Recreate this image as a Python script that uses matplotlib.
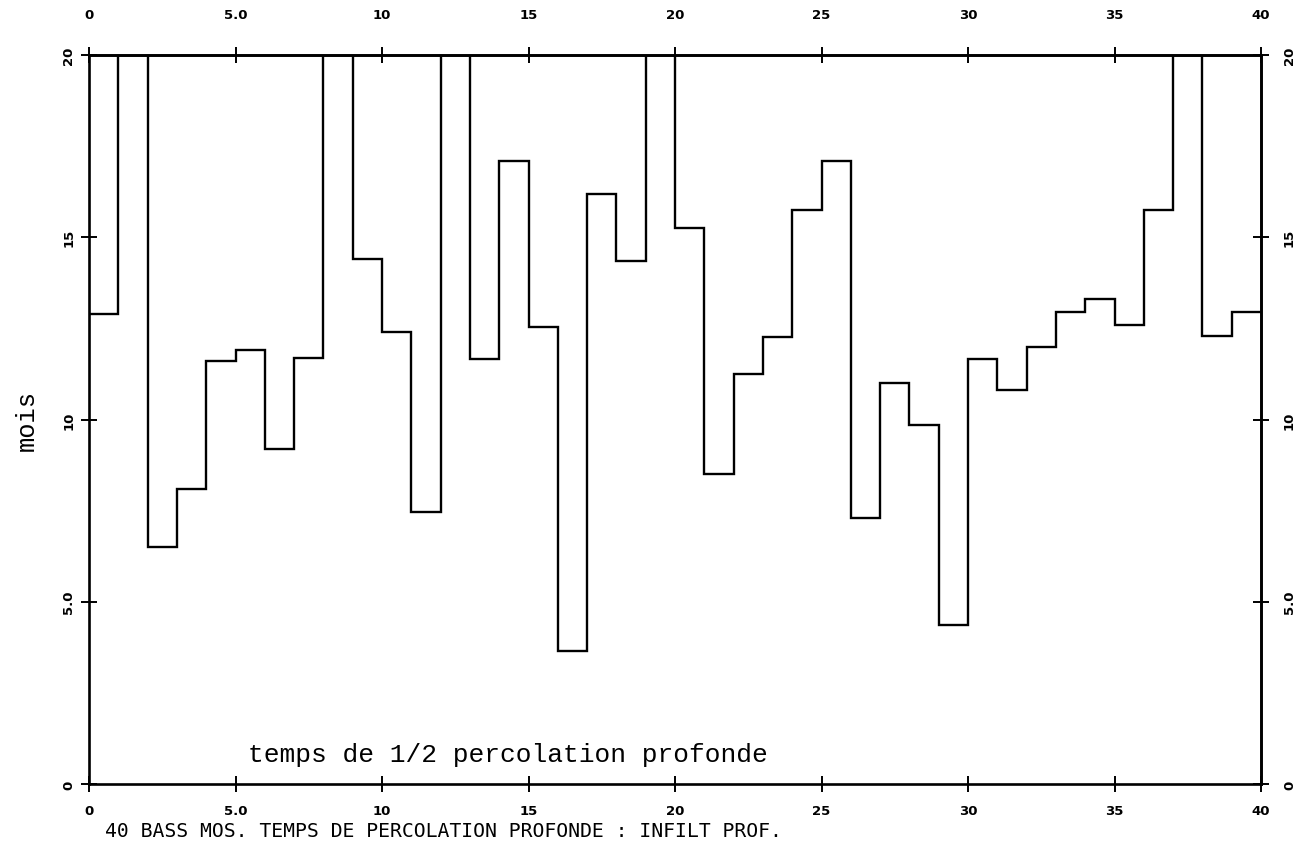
import matplotlib
matplotlib.use("Agg")
import matplotlib.pyplot as plt
import numpy as np

# ---- data ----
edges = list(range(0, 41))
values = [12.9, 20.0, 6.5, 8.1, 11.6, 11.9, 9.2, 11.7, 20.0, 14.4,
          12.4, 7.45, 20.0, 11.65, 17.1, 12.55, 3.65, 16.2, 14.35, 20.0,
          15.25, 8.5, 11.25, 12.25, 15.75, 17.1, 7.3, 11.0, 9.85, 4.35,
          11.65, 10.8, 12.0, 12.95, 13.3, 12.6, 15.75, 20.0, 12.3, 12.95]
xticks = [0, 5, 10, 15, 20, 25, 30, 35, 40]
xticklabels = ["0", "5.0", "10", "15", "20", "25", "30", "35", "40"]
yticks = [0, 5, 10, 15, 20]
yticklabels = ["0", "5.0", "10", "15", "20"]
inner_label = "temps de 1/2 percolation profonde"
ylabel = "mois"
caption = "40 BASS MOS. TEMPS DE PERCOLATION PROFONDE : INFILT PROF."

W, H = 1307, 854
fig = plt.figure(figsize=(W / 100, H / 100), dpi=100)
left, right, top, bottom = 89, 1261, 56, 785
ax = fig.add_axes([left / W, 1 - bottom / H, (right - left) / W, (bottom - top) / H])

ax.stairs(values, edges, baseline=None, color="black", lw=1.7)
ax.set_xlim(0, 40)
ax.set_ylim(0, 20)

for s in ax.spines.values():
    s.set_linewidth(1.9)
    s.set_color("black")

tick_kw = dict(direction="inout", length=11.5, width=1.4, color="black")
lab_font = dict(fontsize=9.5, fontweight="bold", family="DejaVu Sans")

ax.set_xticks(xticks)
ax.set_xticklabels(xticklabels, **lab_font)
ax.set_yticks(yticks)
ax.set_yticklabels(yticklabels, rotation=90, va="center", **lab_font)
ax.tick_params(axis="x", pad=8.6, **tick_kw)
ax.tick_params(axis="y", pad=4.2, **tick_kw)

secx = ax.secondary_xaxis("top")
secx.set_xticks(xticks)
secx.set_xticklabels(xticklabels, **lab_font)
secx.tick_params(axis="x", pad=18.7, **tick_kw)
secx.spines["top"].set_linewidth(1.9)

secy = ax.secondary_yaxis("right")
secy.set_yticks(yticks)
secy.set_yticklabels(yticklabels, rotation=90, va="center", **lab_font)
secy.tick_params(axis="y", pad=10.0, **tick_kw)
secy.spines["right"].set_linewidth(1.9)

ax.text(5.42, 0.63, inner_label, family="Liberation Mono", fontsize=18.9,
        ha="left", va="baseline", color="black")

fig.text(27 / W, 1 - 421 / H, ylabel, family="Liberation Mono", fontsize=18.4,
         rotation=90, ha="center", va="center", color="black")

fig.text(105 / W, 1 - 837 / H, caption, family="DejaVu Sans Mono", fontsize=14.2,
         ha="left", va="baseline", color="black")

fig.savefig("out.png", dpi=100, facecolor="white")
